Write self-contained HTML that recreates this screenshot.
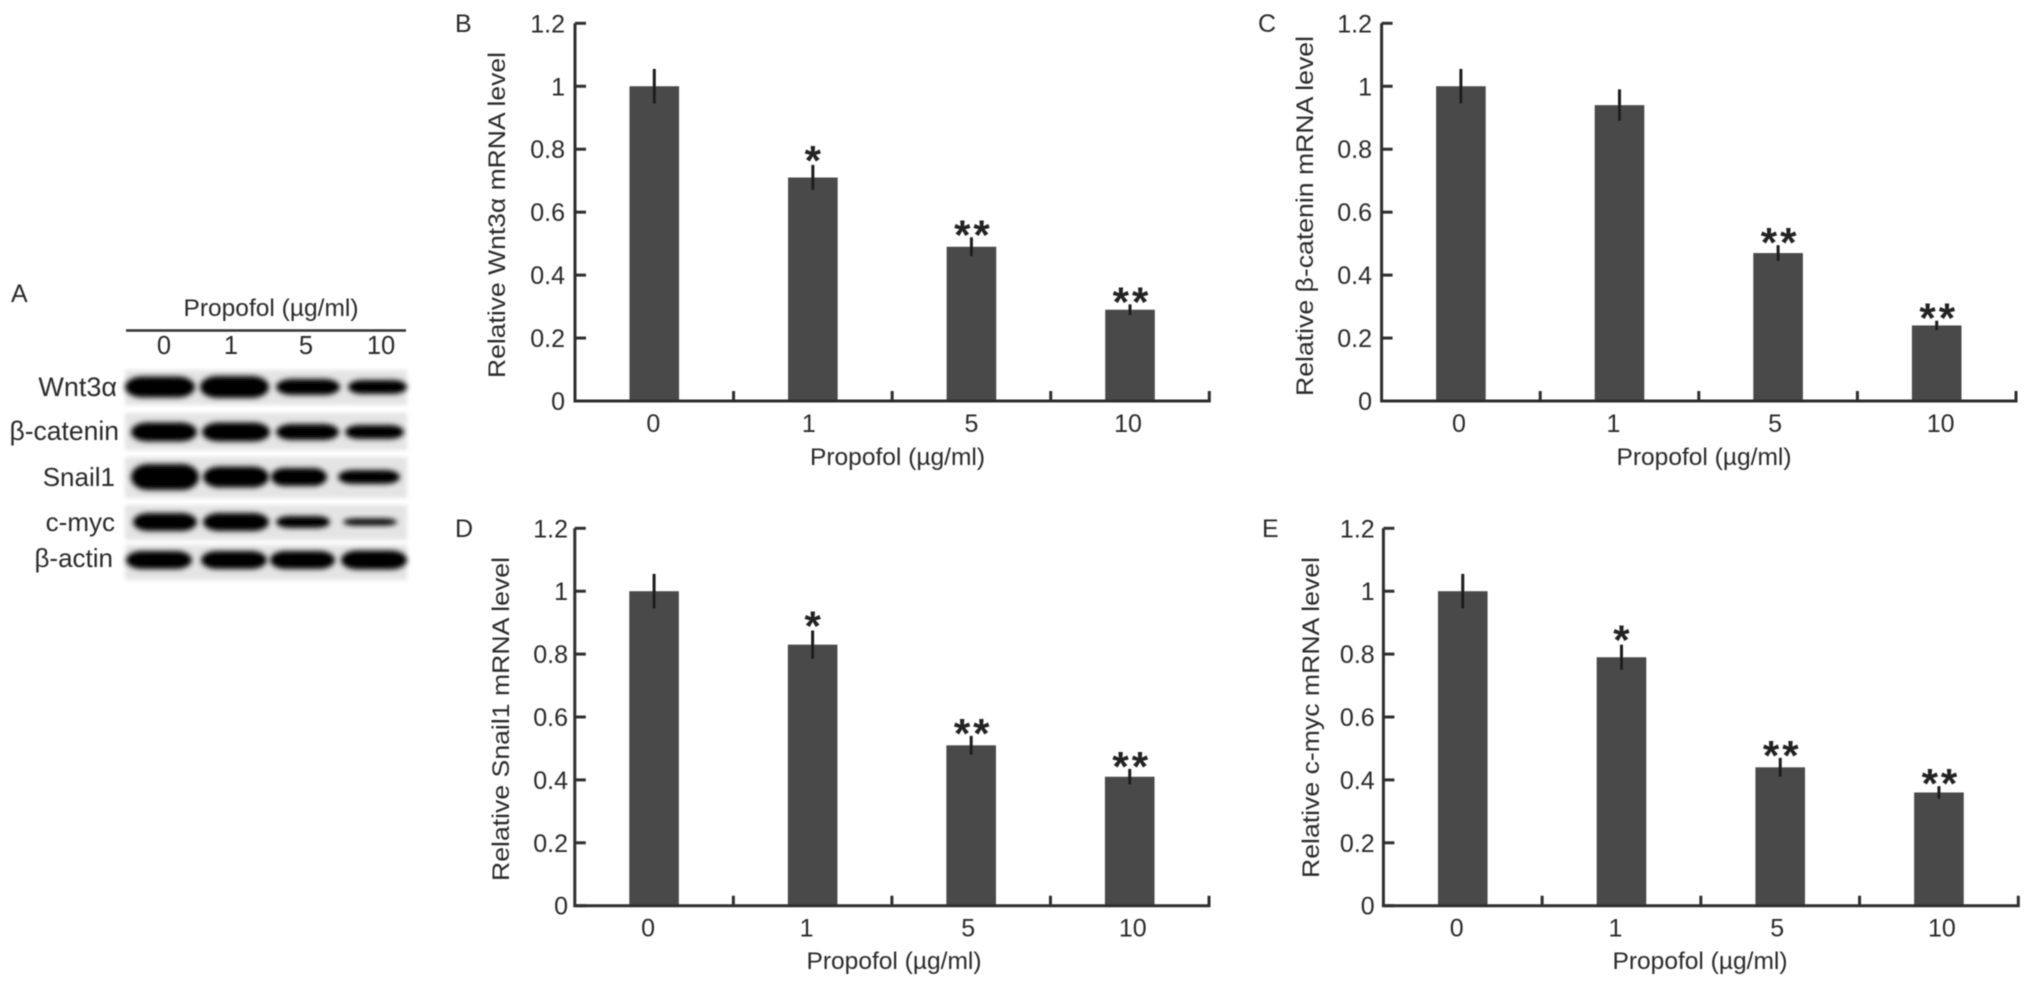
<!DOCTYPE html>
<html lang="en">
<head>
<meta charset="utf-8">
<title>Propofol effects on Wnt3α, β-catenin, Snail1 and c-myc</title>
<style>
html,body{margin:0;padding:0;background:#fff;width:2031px;height:986px;overflow:hidden}
svg{display:block}
text{font-family:"Liberation Sans",sans-serif;fill:#2b2b2b}
</style>
</head>
<body>
<svg id="figure" xmlns="http://www.w3.org/2000/svg" width="2031" height="986" viewBox="0 0 2031 986">
  <defs>
    <filter id="soft" x="-2%" y="-2%" width="104%" height="104%"><feGaussianBlur stdDeviation="0.6"/></filter>
    <filter id="bandBlur" x="-20%" y="-60%" width="140%" height="220%"><feGaussianBlur stdDeviation="2.6"/></filter>
    <filter id="stripBlur" x="-5%" y="-30%" width="110%" height="160%"><feGaussianBlur stdDeviation="2"/></filter>
  </defs>
  <g id="root" filter="url(#soft)">
    <g id="panelA">
      <text x="11" y="302" font-size="25">A</text>
      <text x="271" y="316" font-size="24.5" text-anchor="middle" textLength="175">Propofol (µg/ml)</text>
      <line x1="126" x2="406" y1="330.5" y2="330.5" stroke="#333" stroke-width="2.5"/>
    </g>
  </g>
</svg>
<script>
const categories = ['0', '1', '5', '10'];
const yTickValues = [0, 0.2, 0.4, 0.6, 0.8, 1, 1.2];
const yTickLabels = ['0', '0.2', '0.4', '0.6', '0.8', '1', '1.2'];

const wntValues = [1, 0.71, 0.49, 0.29];
const wntErrors = [0.055, 0.04, 0.03, 0.017];
const wntStars = ['', '*', '**', '**'];

const cateninValues = [1, 0.94, 0.47, 0.24];
const cateninErrors = [0.055, 0.05, 0.025, 0.015];
const cateninStars = ['', '', '**', '**'];

const snailValues = [1, 0.83, 0.51, 0.41];
const snailErrors = [0.055, 0.045, 0.03, 0.025];
const snailStars = ['', '*', '**', '**'];

const mycValues = [1, 0.79, 0.44, 0.36];
const mycErrors = [0.055, 0.04, 0.03, 0.02];
const mycStars = ['', '*', '**', '**'];

const blotLanes = ['0', '1', '5', '10'];
const blotProteins = ['Wnt3α', 'β-catenin', 'Snail1', 'c-myc', 'β-actin'];

const NS = 'http://www.w3.org/2000/svg';
const root = document.getElementById('root');

function mk(parent, tag, attrs, txt) {
  const el = document.createElementNS(NS, tag);
  for (const k in attrs) el.setAttribute(k, attrs[k]);
  if (txt !== undefined) el.appendChild(document.createTextNode(txt));
  parent.appendChild(el);
  return el;
}

const panels = [
  { key: 'b', letter: 'B', letterX: 455, letterY: 32, x0: 575, x1: 1209.3, yTop: 23.3, yBase: 401, labelRight: 565,
    title: 'Relative Wnt3α mRNA level', titleX: 505, titleY: 215, titleLen: 326,
    xTitleX: 897.5, xTitleY: 465, catShift: [-1, -4, 0, -2],
    values: wntValues, errors: wntErrors, stars: wntStars },
  { key: 'c', letter: 'C', letterX: 1258, letterY: 32, x0: 1381.6, x1: 2016, yTop: 23.3, yBase: 401, labelRight: 1372,
    title: 'Relative β-catenin mRNA level', titleX: 1313, titleY: 216, titleLen: 360,
    xTitleX: 1704, xTitleY: 465, catShift: [-2, -6, -3, 4],
    values: cateninValues, errors: cateninErrors, stars: cateninStars },
  { key: 'd', letter: 'D', letterX: 455, letterY: 537, x0: 574.8, x1: 1209, yTop: 528.3, yBase: 905.7, labelRight: 568,
    title: 'Relative Snail1 mRNA level', titleX: 509, titleY: 719, titleLen: 324,
    xTitleX: 894, xTitleY: 969, catShift: [-6, -6, -3, 3],
    values: snailValues, errors: snailErrors, stars: snailStars },
  { key: 'e', letter: 'E', letterX: 1262, letterY: 537, x0: 1383.4, x1: 2018.3, yTop: 528.3, yBase: 905.7, labelRight: 1374.7,
    title: 'Relative c-myc mRNA level', titleX: 1319, titleY: 717.5, titleLen: 321,
    xTitleX: 1700, xTitleY: 969, catShift: [-6, -6, -3, 3],
    values: mycValues, errors: mycErrors, stars: mycStars }
];

function yScale(p, v) {
  return p.yBase - (v / 1.2) * (p.yBase - p.yTop);
}
function bandWidth(p) {
  return (p.x1 - p.x0) / categories.length;
}
function xScale(p, i) {
  return p.x0 + bandWidth(p) * (i + 0.5);
}

panels.forEach(function (p) {
  const g = mk(root, 'g', {});
  
  

  const letter = mk(g, 'text', { x: p.letterX, y: p.letterY, 'font-size': 25 }, p.letter);
  
  

  p.values.forEach(function (v, i) {
    const cx = xScale(p, i);
    const top = yScale(p, v);
    const bar = mk(g, 'rect', { x: cx - 24.8, y: top, width: 49.6, height: p.yBase - top, fill: '#484848' });
    
    

    const hi = yScale(p, v + p.errors[i]);
    const lo = yScale(p, v - p.errors[i]);
    const err = mk(g, 'line', { x1: cx, x2: cx, y1: hi, y2: lo, stroke: '#1c1c1c', 'stroke-width': 3 });
    
    

    if (p.stars[i]) {
      const isDouble = p.stars[i].length > 1;
      const star = mk(g, 'text', {
        x: cx + (isDouble ? 2 : 0), y: hi + (isDouble ? 12 : 10), 'font-size': 42, 'font-weight': 'bold',
        'text-anchor': 'middle', 'letter-spacing': isDouble ? 3 : 0, style: 'fill:#222'
      }, p.stars[i]);
      
      
    }

    const lab = mk(g, 'text', {
      x: cx + p.catShift[i], y: p.yBase + 31, 'font-size': 25, 'text-anchor': 'middle'
    }, categories[i]);
    
    
  });

  const axis = mk(g, 'path', {
    d: 'M' + p.x0 + ' ' + p.yTop + 'V' + p.yBase + 'H' + p.x1 + 'V' + (p.yBase - 10),
    fill: 'none', stroke: '#2e2e2e', 'stroke-width': 3
  });
  
  

  for (let i = 1; i < categories.length; i++) {
    const tx = p.x0 + bandWidth(p) * i;
    const tick = mk(g, 'line', { x1: tx, x2: tx, y1: p.yBase, y2: p.yBase - 10, stroke: '#2e2e2e', 'stroke-width': 3 });
    
    
  }

  yTickValues.forEach(function (v, i) {
    const ty = yScale(p, v);
    const tick = mk(g, 'line', { x1: p.x0, x2: p.x0 + 11, y1: ty, y2: ty, stroke: '#2e2e2e', 'stroke-width': 3 });
    
    

    const lab = mk(g, 'text', { x: p.labelRight, y: ty + 9, 'font-size': 25, 'text-anchor': 'end' }, yTickLabels[i]);
    
    
  });

  const yt = mk(g, 'text', {
    x: p.titleX, y: p.titleY, 'font-size': 24.5, 'text-anchor': 'middle',
    textLength: p.titleLen, lengthAdjust: 'spacingAndGlyphs',
    transform: 'rotate(-90 ' + p.titleX + ' ' + p.titleY + ')'
  }, p.title);
  
  

  const xt = mk(g, 'text', {
    x: p.xTitleX, y: p.xTitleY, 'font-size': 24.5, 'text-anchor': 'middle',
    textLength: 175, lengthAdjust: 'spacingAndGlyphs'
  }, 'Propofol (µg/ml)');
  
  
});

/* Western blot drawing: band extents (left, right, height). */
const panelA = document.getElementById('panelA');
const blotLaneX = [164, 231, 306, 381];
blotLanes.forEach(function (lane, i) {
  const t = mk(panelA, 'text', { x: blotLaneX[i], y: 354, 'font-size': 25.5, 'text-anchor': 'middle' }, lane);
  
  
});

const blotRows = [
  { y: 387, top: 370, bottom: 405, right: 117, textY: 396, size: 27,
    bands: [[125, 195, 21], [200, 269, 22], [276, 340, 16], [348, 407, 14]] },
  { y: 432, top: 413, bottom: 450, right: 119, textY: 440, size: 26.5,
    bands: [[131, 197, 19], [202, 270, 19], [276, 339, 16], [345, 404, 14]] },
  { y: 477, top: 457, bottom: 498, right: 115, textY: 486, size: 26,
    bands: [[131, 199, 26], [203, 269, 21], [271, 327, 18], [338, 400, 14]] },
  { y: 522, top: 505, bottom: 540, right: 115, textY: 531, size: 26,
    bands: [[133, 197, 18], [203, 269, 18], [276, 330, 12], [343, 397, 7]] },
  { y: 560, top: 545, bottom: 580, right: 113, textY: 567, size: 26,
    bands: [[126, 192, 18], [201, 267, 18], [270, 335, 18], [341, 407, 19]] }
];

blotRows.forEach(function (r, idx) {
  const name = blotProteins[idx];
  const g = mk(panelA, 'g', {});
  
  

  const strip = mk(g, 'rect', { x: 125, y: r.top, width: 282, height: r.bottom - r.top, fill: '#e4e4e4', filter: 'url(#stripBlur)' });
  
  

  r.bands.forEach(function (b, j) {
    const band = mk(g, 'rect', {
      x: b[0], y: r.y - b[2] / 2, width: b[1] - b[0], height: b[2],
      rx: (b[1] - b[0]) / 4, ry: b[2] / 2, fill: '#000', filter: 'url(#bandBlur)'
    });
    
    
  });

  const lab = mk(g, 'text', { x: r.right, y: r.textY, 'font-size': r.size, 'text-anchor': 'end' }, name);
  
  
});
</script>
</body>
</html>
